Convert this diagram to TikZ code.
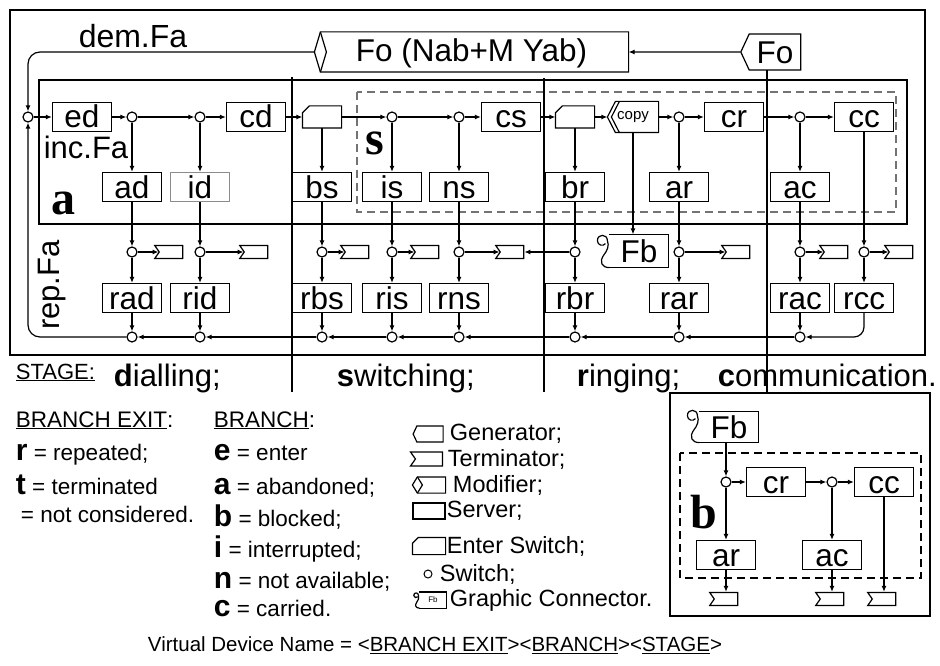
\documentclass[tikz,border=0pt]{standalone}
\usepackage{fontspec}
\setmainfont{Liberation Sans}
\newfontfamily\serifbf{Liberation Serif}
\usetikzlibrary{positioning,arrows.meta,shapes.symbols,calc}

\newcommand\fs[1]{\fontsize{#1}{#1}\selectfont}
% graphic connector: box open on the left, with a curl
\newcommand\gcon[2][1]{%
  \draw (#2.north west) -- (#2.north east) -- (#2.south east) -- (#2.south west);
  \draw[shift={(#2.south west)},scale=#1] (0,0) .. controls (-8,0) and (-10,-6) .. (-6,-12)
    .. controls (-2,-17) and (0,-22) .. (-2,-27) .. controls (-2,-34) and (-12,-34) .. (-12,-27)
    .. controls (-12,-22) and (-6,-21) .. (-4,-24);}
% enter switch: box with the upper left corner cut
\newcommand\eshape[2][7pt]{%
  \draw ([yshift=-#1]#2.north west) -- ([xshift=#1]#2.north west) -- (#2.north east)
    -- (#2.south east) -- (#2.south west) -- cycle;}

\begin{document}
\begin{tikzpicture}[x=1pt,y=-1pt,
  line width=1.2pt,
  srv/.style={rectangle,draw,inner sep=0pt,minimum width=59pt,minimum height=29pt,
    font=\fs{31.5},text height=22pt,text depth=0pt},
  sw/.style={circle,draw,inner sep=0pt,minimum size=10pt},
  esw/.style={rectangle,inner sep=0pt,minimum width=38pt,minimum height=21pt},
  gen/.style={signal,signal to=west,signal pointer angle=130,draw,inner sep=0pt},
  term/.style={signal,signal to=nowhere,signal from=west,signal pointer angle=110,draw,inner sep=0pt,
    minimum width=28pt,minimum height=13pt},
  conn/.style={draw,-{Latex[length=6pt,width=5pt]}},
  frm/.style={draw,line width=1.5pt},
  dsh/.style={draw=black!55,dash pattern=on 8pt off 5pt},
  letter/.style={font=\serifbf\bfseries\fs{48}},
  txt/.style={anchor=base west,font=\fs{22.5}},
  leg/.style={anchor=west,font=\fs{23.5}},
  stage/.style={anchor=base west,font=\fs{31}},
]
\useasboundingbox (0,0) rectangle (940,666);

% frames
\draw[frm] (10,10) rectangle (925,355);
\draw[frm] (39,80) rectangle (907,224);
\draw[dsh] (357,92) rectangle (896,212);

% stage dividers
\draw (292,77) -- (292,392);
\draw (544,78) -- (544,392);
\draw (767,70) -- (767,392);

% top: modifier and generator
\node[inner sep=0pt,minimum width=313pt,minimum height=39pt,font=\fs{31.5},text height=23pt,text depth=3pt] (mod) at (471.5,52) {Fo (Nab+M Yab)};
\draw (mod.west) -- ([xshift=6pt]mod.north west) -- (mod.north east) -- (mod.south east) -- ([xshift=6pt]mod.south west) -- cycle;
\draw ([xshift=6pt]mod.north west) -- ([xshift=12pt]mod.west) -- ([xshift=6pt]mod.south west);
\node[gen,minimum width=60pt,minimum height=36pt,font=\fs{31.5},text height=23pt,text depth=0pt] (fo) at (775,52) {Fo};
\node[font=\fs{32}] (dem) at (133,36) {dem.Fa};

% main row
\node[sw] (sw0) at (28,117) {};
\node[srv] (ed) at (82,117) {ed};
\node[sw] (sw1) at (132,117) {};
\node[sw] (sw2) at (200,117) {};
\node[srv] (cd) at (256,117) {cd};
\node[esw] (esw1) at (322,117) {};
\eshape{esw1}
\node[sw] (sw3) at (392,117) {};
\node[sw] (sw4) at (459,117) {};
\node[srv] (cs) at (511,117) {cs};
\node[esw] (esw2) at (575,117) {};
\eshape{esw2}
\node[inner sep=0pt,minimum width=50pt,minimum height=30pt,font=\fs{15}] (copy) at (633,117) {copy};
\draw (copy.west) -- ([xshift=8pt]copy.north west) -- (copy.north east) -- (copy.south east) -- ([xshift=8pt]copy.south west) -- cycle;
\draw ([xshift=12pt]copy.north west) -- ([xshift=4pt]copy.west) -- ([xshift=12pt]copy.south west);
\node[sw] (sw5) at (679,117) {};
\node[srv] (cr) at (734,117) {cr};
\node[sw] (sw6) at (800,117) {};
\node[srv] (cc) at (864,117) {cc};

\node[font=\fs{31}] (inc) at (86,147) {inc.Fa};
\node[letter] (la) at (63,203) {a};
\node[letter] (ls) at (375,143) {s};

% branch servers
\node[srv] (ad) at (132,187) {ad};
\node[srv,draw=black!45] (id) at (200,187) {id};
\node[srv] (bs) at (322,187) {bs};
\node[srv] (is) at (392,187) {is};
\node[srv] (ns) at (459,187) {ns};
\node[srv] (br) at (575,187) {br};
\node[srv] (ar) at (679,187) {ar};
\node[srv] (ac) at (800,187) {ac};

% exit switches and terminators
\node[sw] (sad) at (132,252) {};
\node[sw] (sid) at (200,252) {};
\node[sw] (sbs) at (322,252) {};
\node[sw] (sis) at (392,252) {};
\node[sw] (sns) at (459,252) {};
\node[sw] (sbr) at (575,252) {};
\node[sw] (sar) at (679,252) {};
\node[sw] (sac) at (800,252) {};
\node[sw] (scc) at (864,252) {};
\node[term] (tad) at (171,252) {};
\node[term] (tid) at (256,252) {};
\node[term] (tbs) at (357,252) {};
\node[term] (tis) at (427,252) {};
\node[term] (tns) at (512,252) {};
\node[term] (tar) at (738,252) {};
\node[term] (tac) at (836,252) {};
\node[term] (tcc) at (901,252) {};
\node[inner sep=0pt,minimum width=58pt,minimum height=32pt,font=\fs{31.5},text height=22pt,text depth=0pt] (fb) at (639,251) {Fb};
\gcon{fb}

% repeat servers
\node[srv] (rad) at (132,298) {rad};
\node[srv] (rid) at (200,298) {rid};
\node[srv] (rbs) at (322,298) {rbs};
\node[srv] (ris) at (392,298) {ris};
\node[srv] (rns) at (459,298) {rns};
\node[srv] (rbr) at (575,298) {rbr};
\node[srv] (rar) at (679,298) {rar};
\node[srv] (rac) at (800,298) {rac};
\node[srv] (rcc) at (864,298) {rcc};
\node[sw] (jad) at (132,337) {};
\node[sw] (jid) at (200,337) {};
\node[sw] (jbs) at (322,337) {};
\node[sw] (jis) at (392,337) {};
\node[sw] (jns) at (459,337) {};
\node[sw] (jbr) at (575,337) {};
\node[sw] (jar) at (679,337) {};
\node[sw] (jac) at (800,337) {};
\node[font=\fs{31},rotate=90] (rep) at (52,285) {rep.Fa};

% connectors
\draw[conn] (fo) -- (mod);
\draw[conn,rounded corners=12pt] (mod.west) -| (sw0);
\draw[conn,rounded corners=12pt] (jad) -| (sw0);
\foreach \a/\b in {sw0/ed,ed/sw1,sw1/sw2,sw2/cd,cd/esw1,esw1/sw3,sw3/sw4,sw4/cs,cs/esw2,esw2/copy,
  copy/sw5,sw5/cr,cr/sw6,sw6/cc,
  sw1/ad,sw2/id,esw1/bs,sw3/is,sw4/ns,esw2/br,sw5/ar,sw6/ac,
  ad/sad,id/sid,bs/sbs,is/sis,ns/sns,br/sbr,ar/sar,ac/sac,cc/scc,
  sad/tad,sid/tid,sbs/tbs,sis/tis,sns/tns,sbr/tns,sar/tar,sac/tac,scc/tcc,
  sad/rad,sid/rid,sbs/rbs,sis/ris,sns/rns,sbr/rbr,sar/rar,sac/rac,scc/rcc,
  rad/jad,rid/jid,rbs/jbs,ris/jis,rns/jns,rbr/jbr,rar/jar,rac/jac,
  jid/jad,jbs/jid,jis/jbs,jns/jis,jbr/jns,jar/jbr,jac/jar}
  \draw[conn] (\a) -- (\b);
\draw[conn] (copy.south) -- (copy.south |- fb.north);
\draw[conn,rounded corners=10pt] (rcc) |- (jac);

% stages
\node[anchor=base west,font=\fs{22}] (stg) at (12,379) {\underline{STAGE:}};
\node[stage] (sdial) at (110,386) {\textbf{d}ialling;};
\node[stage] (sswit) at (333,386) {\textbf{s}witching;};
\node[stage] (sring) at (573,386) {\textbf{r}inging;};
\node[stage] (scomm) at (714,386) {\textbf{c}ommunication.};

% branch exit / branch
\node[txt] (hexit) at (12,427) {\underline{BRANCH EXIT}:};
\node[txt] (xr) at (12,460) {{\bfseries\fs{30}r} = repeated;};
\node[txt] (xt) at (12,494) {{\bfseries\fs{30}t} = terminated};
\node[txt] (xn) at (17,522) {= not considered.};
\node[txt] (hbr) at (210,427) {\underline{BRANCH}:};
\node[txt] (be) at (210,460) {{\bfseries\fs{30}e} = enter};
\node[txt] (ba) at (210,494) {{\bfseries\fs{30}a} = abandoned;};
\node[txt] (bb) at (210,526) {{\bfseries\fs{30}b} = blocked;};
\node[txt] (bi) at (210,557) {{\bfseries\fs{30}i} = interrupted;};
\node[txt] (bn) at (210,588) {{\bfseries\fs{30}n} = not available;};
\node[txt] (bc) at (210,616) {{\bfseries\fs{30}c} = carried.};

% symbols
\node[gen,minimum width=30pt,minimum height=16pt] (lgen) at (430,434) {};
\node[leg] at (446,434) {Generator;};
\node[term,minimum width=32pt,minimum height=14pt] (lterm) at (429,459) {};
\node[leg] at (444,459) {Terminator;};
\node[inner sep=0pt,minimum width=32pt,minimum height=15pt] (lmod) at (429,485) {};
\draw (lmod.west) -- ([xshift=5pt]lmod.north west) -- (lmod.north east) -- (lmod.south east) -- ([xshift=5pt]lmod.south west) -- cycle;
\draw ([xshift=5pt]lmod.north west) -- ([xshift=10pt]lmod.west) -- ([xshift=5pt]lmod.south west);
\node[leg] at (449,485) {Modifier;};
\node[draw,inner sep=0pt,minimum width=32pt,minimum height=16pt] (lsrv) at (429,511) {};
\node[leg] at (443,511) {Server;};
\node[esw,minimum width=32pt,minimum height=16pt] (lesw) at (429,546) {};
\eshape[6pt]{lesw}
\node[leg] at (443,546) {Enter Switch;};
\node[sw,minimum size=8pt,line width=1pt] (lsw) at (428,574) {};
\node[leg] at (436,574) {Switch;};
\node[inner sep=0pt,minimum width=26pt,minimum height=15pt,font=\fs{8}] (lgc) at (433,600) {Fb};
\gcon[0.47]{lgc}
\node[leg] at (446,600) {Graphic Connector.};

% inset b
\draw[frm] (670,393) rectangle (930,616);
\draw[dsh,draw=black] (680,453) rectangle (921,578);
\node[inner sep=0pt,minimum width=58pt,minimum height=30pt,font=\fs{31.5},text height=22pt,text depth=0pt] (bfb) at (729,427) {Fb};
\gcon{bfb}
\node[sw] (bsw1) at (726,482) {};
\node[srv] (bcr) at (776,482) {cr};
\node[sw] (bsw2) at (832,482) {};
\node[srv] (bcc) at (884,482) {cc};
\node[srv] (bar) at (726,555) {ar};
\node[srv] (bac) at (832,555) {ac};
\node[term] (bt1) at (726,599) {};
\node[term] (bt2) at (832,599) {};
\node[term] (bt3) at (884,599) {};
\node[letter] (lb) at (704,512) {b};
\draw[conn] (bfb.south -| bsw1) -- (bsw1);
\foreach \a/\b in {bsw1/bcr,bcr/bsw2,bsw2/bcc,bsw1/bar,bsw2/bac,bar/bt1,bac/bt2,bcc/bt3}
  \draw[conn] (\a) -- (\b);

\node[font=\fs{20.5}] (vdn) at (435,645) {Virtual Device Name = <\underline{BRANCH EXIT}><\underline{BRANCH}><\underline{STAGE}>};
\end{tikzpicture}
\end{document}
